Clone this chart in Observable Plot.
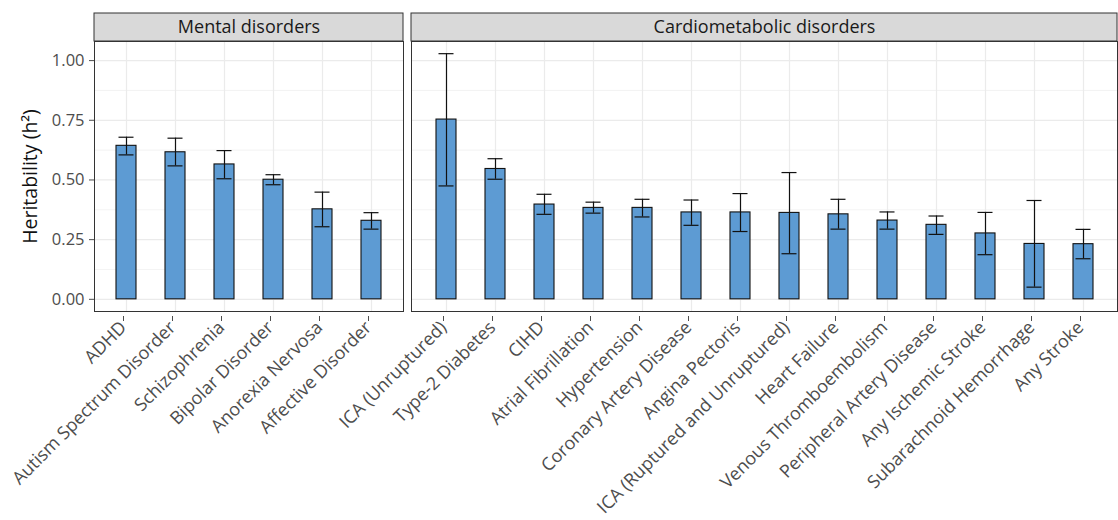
<!DOCTYPE html>
<html>
<head>
<meta charset="utf-8">
<script src="https://cdn.jsdelivr.net/npm/d3@7"></script>
<script src="https://cdn.jsdelivr.net/npm/@observablehq/plot@0.6"></script>
<style>
  html, body { margin: 0; padding: 0; background: #fff; }
  #row { display: flex; flex-direction: row; gap: 6px; width: 1118px; }
  svg { display: block; }
</style>
</head>
<body>
<div id="row"></div>
<script>
// ---- Data ----
const mentalTitle = "Mental disorders";
const mentalNames = ["ADHD", "Autism Spectrum Disorder", "Schizophrenia", "Bipolar Disorder", "Anorexia Nervosa", "Affective Disorder"];
const mentalH2    = [0.643, 0.616, 0.565, 0.501, 0.377, 0.329];
const mentalLo    = [0.605, 0.559, 0.505, 0.480, 0.304, 0.294];
const mentalHi    = [0.679, 0.675, 0.623, 0.522, 0.449, 0.363];

const cardioTitle = "Cardiometabolic disorders";
const cardioNames = ["ICA (Unruptured)", "Type-2 Diabetes", "CIHD", "Atrial Fibrillation", "Hypertension",
  "Coronary Artery Disease", "Angina Pectoris", "ICA (Ruptured and Unruptured)", "Heart Failure",
  "Venous Thromboembolism", "Peripheral Artery Disease", "Any Ischemic Stroke", "Subarachnoid Hemorrhage", "Any Stroke"];
const cardioH2    = [0.753, 0.546, 0.397, 0.383, 0.383, 0.364, 0.364, 0.362, 0.356, 0.330, 0.312, 0.276, 0.232, 0.231];
const cardioLo    = [0.475, 0.503, 0.356, 0.361, 0.345, 0.310, 0.284, 0.191, 0.294, 0.294, 0.272, 0.187, 0.051, 0.170];
const cardioHi    = [1.029, 0.589, 0.440, 0.407, 0.419, 0.416, 0.443, 0.531, 0.419, 0.366, 0.349, 0.364, 0.414, 0.293];

const yMajor = [0, 0.25, 0.5, 0.75, 1.0];
const yMinor = [0.125, 0.375, 0.625, 0.875];
const yLabel = "Heritability (h²)";

// ---- Drawing ----
const H = 520, MT = 41, MB = 209;
const gridColor = "#ebebeb";
const barFill = "#5d9bd3";

function panel(title, names, h2, lo, hi, {width, marginLeft, marginRight, showY}) {
  const data = names.map((n, i) => ({name: n, h2: h2[i], lo: lo[i], hi: hi[i]}));
  const marks = [
    Plot.ruleY(yMinor, {stroke: gridColor, strokeWidth: 0.6}),
    Plot.ruleY(yMajor, {stroke: gridColor, strokeWidth: 1.2}),
    Plot.gridX({stroke: gridColor, strokeOpacity: 1, strokeWidth: 1.2}),
    Plot.barY(data, {x: "name", y: "h2", fill: barFill, stroke: "#111", strokeWidth: 1.1}),
    Plot.ruleX(data, {x: "name", y1: "lo", y2: "hi", stroke: "#111", strokeWidth: 1.2}),
    Plot.tickY(data, {x: "name", y: "lo", stroke: "#111", strokeWidth: 1.2, insetLeft: 2.5, insetRight: 2.5}),
    Plot.tickY(data, {x: "name", y: "hi", stroke: "#111", strokeWidth: 1.2, insetLeft: 2.5, insetRight: 2.5}),
    Plot.frame({stroke: "#333", strokeWidth: 1}),
    Plot.axisX({tickRotate: -45, tickSize: 5, tickPadding: 3, fontSize: 18, color: "#4d4d4d", label: null, dx: -3, dy: 5}),
    Plot.text([title], {frameAnchor: "top", lineAnchor: "middle", textAnchor: "middle", dy: -14, fontSize: 18, fill: "#1a1a1a"})
  ];
  if (showY) {
    marks.push(Plot.axisY({ticks: yMajor, tickFormat: d3.format(".2f"), tickSize: 5, tickPadding: 5,
      fontSize: 16.5, color: "#4d4d4d", label: null}));
    marks.push(Plot.text([yLabel], {frameAnchor: "left", textAnchor: "middle", lineAnchor: "middle",
      rotate: -90, dx: -64, fontSize: 19.5, fill: "#111"}));
  }
  const chart = Plot.plot({
    width, height: H,
    marginLeft, marginRight, marginTop: MT, marginBottom: MB,
    style: {fontFamily: "'Open Sans', 'Noto Sans', sans-serif", background: "#fff", overflow: "visible"},
    x: {type: "band", domain: names, paddingInner: 0.6, paddingOuter: 0.4, axis: null, label: null},
    y: {domain: [-0.051, 1.08], axis: null, label: null},
    marks
  });
  // strip background behind the facet title
  const svg = d3.select(chart);
  svg.insert("rect", "g")
    .attr("x", marginLeft).attr("y", 13)
    .attr("width", width - marginLeft - marginRight).attr("height", MT - 13)
    .attr("fill", "#d9d9d9").attr("stroke", "#333").attr("stroke-width", 1);
  return chart;
}

const row = document.getElementById("row");
row.append(panel(mentalTitle, mentalNames, mentalH2, mentalLo, mentalHi,
  {width: 404, marginLeft: 94, marginRight: 1, showY: true}));
row.append(panel(cardioTitle, cardioNames, cardioH2, cardioLo, cardioHi,
  {width: 708, marginLeft: 1, marginRight: 1, showY: false}));
</script>
</body>
</html>
